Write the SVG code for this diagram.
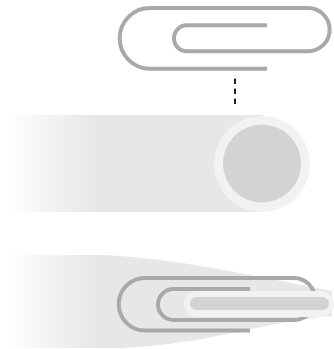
<svg xmlns="http://www.w3.org/2000/svg" width="334" height="349" viewBox="0 0 334 349">
  <defs>
    <linearGradient id="fadeIn" gradientUnits="userSpaceOnUse" x1="6" y1="0" x2="95" y2="0">
      <stop offset="0" stop-color="#ffffff"/>
      <stop offset="1" stop-color="#e6e7e8"/>
    </linearGradient>
    <style>
      .wire { fill: none; stroke: #a7a9ac; stroke-width: 4; stroke-linecap: butt; stroke-linejoin: round; }
      .halo { fill: #f1f2f2; }
      .core { fill: #d1d3d4; }
      .link { stroke: #231f20; stroke-width: 2; stroke-dasharray: 5.5 4.5; fill: none; }
    </style>
  </defs>

  <!-- loose paperclip -->
  <g id="clip-top">
    <path class="wire" d="M267,68.7 L150,68.7 A30.35,30.35 0 0 1 150,8 L308,8 A21.65,21.65 0 0 1 308,51.3 L187,51.3 A13,13 0 0 1 187,25.3 L267,25.3"/>
  </g>

  <!-- sheet edge seen end-on -->
  <g id="sheet-end">
    <rect x="6" y="115" width="257" height="97" fill="url(#fadeIn)"/>
    <circle class="halo" cx="262" cy="164" r="48"/>
    <circle class="core" cx="262" cy="163.5" r="39"/>
  </g>

  <!-- clip holding the sheet -->
  <g id="clip-on-sheet">
    <path d="M6,255 L95,255 C160,256 230,271 332,291 L332,316 C262,322 205,345 120,348 L6,348 Z" fill="url(#fadeIn)"/>
    <path class="wire" d="M250,330.5 L145,330.5 A26.25,26.25 0 0 1 145,278 L294,278 A21,21 0 0 1 294,320 L173.5,320 A15.5,15.5 0 0 1 173.5,289 L250,289"/>
    <rect class="halo" x="184" y="291" width="150" height="26" rx="13"/>
    <rect class="core" x="190" y="297" width="139" height="13" rx="6.5"/>
  </g>

  <g id="connectors">
    <line class="link" x1="235" y1="78.5" x2="235" y2="105"/>
  </g>
</svg>
